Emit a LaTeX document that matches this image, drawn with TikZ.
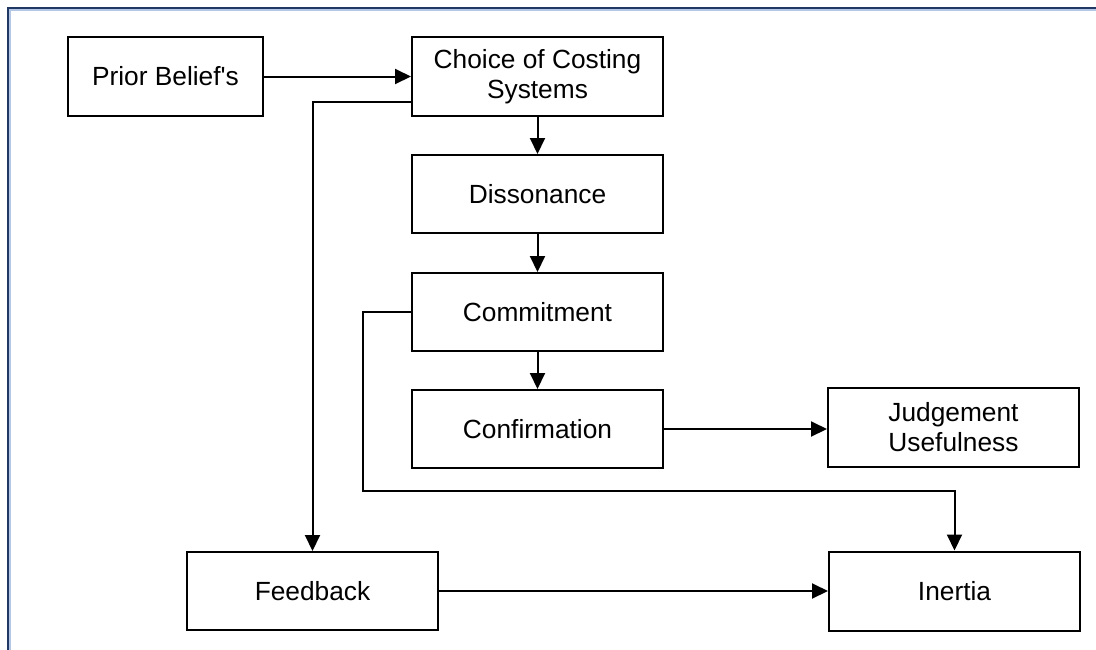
\documentclass[tikz,border=0pt]{standalone}
\usepackage{fontspec}
\setmainfont{Liberation Sans}[Ligatures=TeXOff]
\usetikzlibrary{arrows.meta}
\definecolor{framedark}{HTML}{1F3864}
\definecolor{framelight}{HTML}{B4C7E7}
\begin{document}
\begin{tikzpicture}[x=1pt,y=-1pt,
  stagebox/.style={draw=black, line width=2pt, fill=white, inner sep=0pt,
    minimum width=251pt, minimum height=78pt, align=center,
    font=\fontsize{26.3}{30}\selectfont},
  flow/.style={line width=2pt, -{Triangle[length=16pt,width=15pt]}}]
  \useasboundingbox (0,0) rectangle (1096,649);
  % page frame (top and left edges visible)
  \begin{scope}
    \clip (0,0) rectangle (1096,649);
    \draw[framelight, line width=1.5pt] (9.8,700) -- (9.8,9.8) -- (1200,9.8);
    \draw[framedark, line width=2pt] (8,700) -- (8,8) -- (1200,8);
  \end{scope}
  % stages
  \node[stagebox, minimum width=195pt, minimum height=79pt] (prior) at (165.5,76.5) {Prior Belief's};
  \node[stagebox, minimum height=79pt] (choice) at (537.5,76.5) {Choice of Costing\\Systems};
  \node[stagebox] (diss) at (537.5,194) {Dissonance};
  \node[stagebox] (commit) at (537.5,312) {Commitment};
  \node[stagebox] (confirm) at (537.5,429) {Confirmation};
  \node[stagebox, minimum height=79pt] (judge) at (953.5,427) {Judgement\\Usefulness};
  \node[stagebox] (feedback) at (312.5,591) {Feedback};
  \node[stagebox, minimum height=79pt] (inertia) at (954.5,591) {Inertia};
  \coordinate (loop) at (363,491);
  % connectors
  \draw[flow] (prior.east) -- (choice.west);
  \draw[flow] (choice.south) -- (diss.north);
  \draw[flow] (diss.south) -- (commit.north);
  \draw[flow] (commit.south) -- (confirm.north);
  \draw[flow] (confirm.east) -- (confirm.east -| judge.west);
  \draw[flow] ([yshift=-25.5pt]choice.west) -| (feedback.north);
  \draw[flow] (commit.west) -| (loop) -| (inertia.north);
  \draw[flow] (feedback.east) -- (inertia.west);
\end{tikzpicture}
\end{document}
